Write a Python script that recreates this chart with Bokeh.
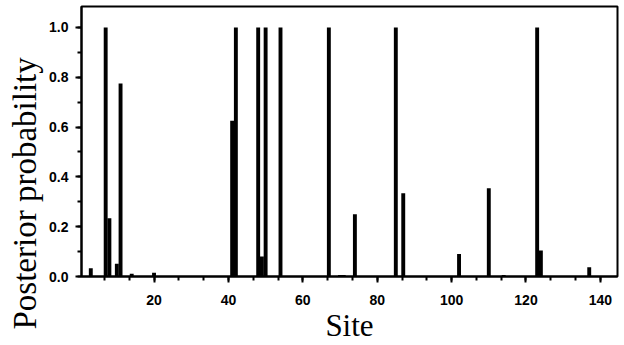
from bokeh.plotting import figure
from bokeh.models import Range1d, FixedTicker, CustomJSTickFormatter, Title
from bokeh.embed import file_html
from bokeh.resources import INLINE

# Data
sites = [3, 7, 8, 10, 11, 14, 20, 41, 42, 48, 49, 50, 54, 67, 70, 71, 74, 85, 87,
         102, 110, 114, 123, 124, 137]
probs = [0.033, 1.0, 0.234, 0.051, 0.775, 0.011, 0.015, 0.625, 1.0, 1.0, 0.08, 1.0,
         1.0, 1.0, 0.006, 0.006, 0.25, 1.0, 0.334, 0.09, 0.354, 0.006, 1.0, 0.104, 0.037]

x_ticks = [20, 40, 60, 80, 100, 120, 140]
y_ticks = [0.0, 0.2, 0.4, 0.6, 0.8, 1.0]
x_title = "Site"
y_title = "Posterior probability"

p = figure(width=624, height=345, output_backend="svg", toolbar_location=None,
           x_range=Range1d(0.5, 144.6), y_range=Range1d(0, 1.084),
           min_border_left=81, min_border_right=7, min_border_top=6,
           min_border_bottom=68)

p.vbar(x=sites, top=probs, width=1.05, bottom=0, fill_color="black",
       line_color=None)

p.grid.visible = False
p.outline_line_color = "black"
p.outline_line_width = 2
p.outline_line_alpha = 1.0

x_minor = [i * 20 / 3 for i in range(0, 22)]
y_minor = [round(i * 0.1, 2) for i in range(0, 11)]
p.xaxis.ticker = FixedTicker(ticks=x_ticks, minor_ticks=x_minor)
p.yaxis.ticker = FixedTicker(ticks=y_ticks, minor_ticks=y_minor)
p.yaxis.formatter = CustomJSTickFormatter(code="return tick.toFixed(1);")

for ax in (p.xaxis[0], p.yaxis[0]):
    ax.axis_line_width = 2
    ax.axis_line_color = "black"
    ax.major_tick_line_width = 2
    ax.major_tick_line_color = "black"
    ax.minor_tick_line_width = 2
    ax.minor_tick_line_color = "black"
    ax.major_tick_out = 6
    ax.major_tick_in = 0
    ax.minor_tick_out = 4
    ax.minor_tick_in = 0
    ax.major_label_text_font = "Liberation Sans"
    ax.major_label_text_font_style = "bold"
    ax.major_label_text_font_size = "14px"
    ax.major_label_text_color = "black"
    ax.axis_label_text_font = "Liberation Serif"
    ax.axis_label_text_font_style = "normal"
    ax.axis_label_text_color = "black"

p.xaxis.axis_label = x_title
p.xaxis.axis_label_text_font_size = "31px"
p.xaxis.major_label_standoff = 12
p.xaxis.axis_label_standoff = 0

p.yaxis.major_label_standoff = 7

ytitle = Title(text=y_title, align="left", offset=-53, standoff=8,
               text_font="Liberation Serif", text_font_style="normal",
               text_font_size="33px", text_color="black")
p.add_layout(ytitle, "left")

open("out.html", "w").write(file_html(p, INLINE))
